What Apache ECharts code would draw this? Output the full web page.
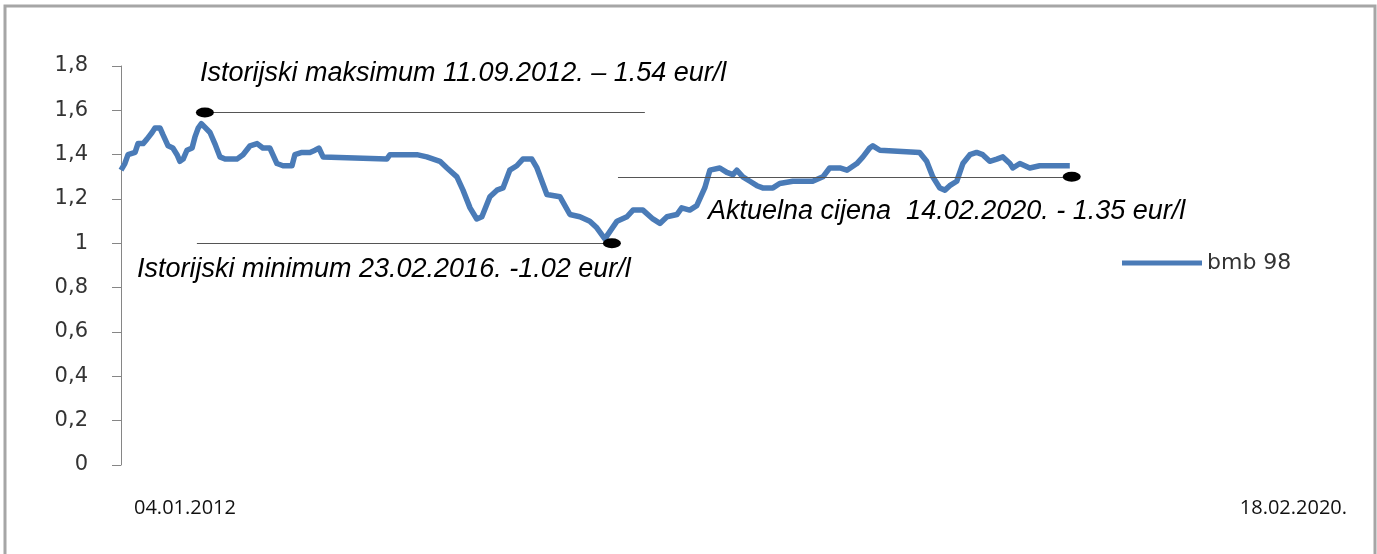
<!DOCTYPE html>
<html>
<head>
<meta charset="utf-8">
<script src="https://cdn.jsdelivr.net/npm/echarts@6/dist/echarts.min.js"></script>
<style>
html, body { margin: 0; padding: 0; background: #fff; }
#main { width: 1377px; height: 554px; }
</style>
</head>
<body>
<div id="main"></div>
<script>
// cijene bmb 98 (eur/l), ocitano sa slike
var dates = [
    '2012-01-04', '2012-01-16', '2012-01-26', '2012-02-17', '2012-02-26', '2012-03-13', '2012-03-25',
    '2012-04-10', '2012-04-19', '2012-05-05', '2012-05-14', '2012-05-30', '2012-06-14', '2012-06-27',
    '2012-07-06', '2012-07-16', '2012-07-28', '2012-08-13', '2012-08-22', '2012-09-01', '2012-09-11',
    '2012-10-08', '2012-10-23', '2012-11-08', '2012-11-24', '2012-12-31', '2013-01-19', '2013-02-10',
    '2013-03-04', '2013-03-22', '2013-04-13', '2013-05-05', '2013-05-24', '2013-06-21', '2013-06-30',
    '2013-07-22', '2013-08-16', '2013-09-01', '2013-09-13', '2013-09-26', '2014-04-13', '2014-04-23',
    '2014-07-16', '2014-08-16', '2014-09-26', '2014-10-18', '2014-11-18', '2014-12-07', '2014-12-29',
    '2015-01-19', '2015-02-04', '2015-03-01', '2015-03-23', '2015-04-11', '2015-05-02', '2015-05-24',
    '2015-06-12', '2015-07-10', '2015-07-26', '2015-08-26', '2015-10-06', '2015-11-06', '2015-12-07',
    '2016-01-07', '2016-01-29', '2016-02-23', '2016-04-01', '2016-05-02', '2016-05-21', '2016-06-21',
    '2016-07-22', '2016-08-13', '2016-09-04', '2016-10-05', '2016-10-20', '2016-11-14', '2016-12-06',
    '2016-12-31', '2017-01-16', '2017-02-16', '2017-03-10', '2017-03-29', '2017-04-10', '2017-04-29',
    '2017-05-21', '2017-06-12', '2017-06-30', '2017-08-01', '2017-08-22', '2017-10-02', '2017-12-03',
    '2018-01-04', '2018-01-25', '2018-02-26', '2018-03-20', '2018-04-20', '2018-05-09', '2018-05-30',
    '2018-06-09', '2018-07-01', '2018-11-02', '2018-11-24', '2018-12-13', '2019-01-04', '2019-01-20',
    '2019-02-04', '2019-02-26', '2019-03-17', '2019-04-08', '2019-04-29', '2019-05-18', '2019-06-09',
    '2019-07-01', '2019-07-20', '2019-08-11', '2019-08-20', '2019-09-11', '2019-10-12', '2019-11-12',
    '2020-02-14'
];
var prices = [
    1.33, 1.36, 1.40, 1.41, 1.45, 1.45, 1.47,
    1.50, 1.52, 1.52, 1.49, 1.44, 1.43, 1.40,
    1.37, 1.38, 1.42, 1.43, 1.48, 1.52, 1.54,
    1.50, 1.45, 1.39, 1.38, 1.38, 1.40, 1.44,
    1.45, 1.43, 1.43, 1.36, 1.35, 1.35, 1.40,
    1.41, 1.41, 1.42, 1.43, 1.39, 1.38, 1.40,
    1.40, 1.39, 1.37, 1.34, 1.30, 1.24, 1.16,
    1.11, 1.12, 1.21, 1.24, 1.25, 1.33, 1.35,
    1.38, 1.38, 1.34, 1.22, 1.21, 1.13, 1.12,
    1.10, 1.07, 1.02, 1.10, 1.12, 1.15, 1.15,
    1.11, 1.09, 1.12, 1.13, 1.16, 1.15, 1.17,
    1.25, 1.33, 1.34, 1.32, 1.31, 1.33, 1.30,
    1.28, 1.26, 1.25, 1.25, 1.27, 1.28, 1.28,
    1.30, 1.34, 1.34, 1.33, 1.36, 1.39, 1.43,
    1.44, 1.42, 1.41, 1.37, 1.30, 1.25, 1.24,
    1.26, 1.28, 1.36, 1.40, 1.41, 1.40, 1.37,
    1.38, 1.39, 1.36, 1.34, 1.36, 1.34, 1.35,
    1.35
];
var yTicks = [0, 0.2, 0.4, 0.6, 0.8, 1, 1.2, 1.4, 1.6, 1.8];
var seriesName = 'bmb 98';
var startLabel = '04.01.2012';
var endLabel = '18.02.2020.';

// oznake: linija + tacka
var maxLine = [['2012-08-28', 1.59], ['2016-06-27', 1.59]];
var minLine = [['2012-08-28', 1.0], ['2016-03-16', 1.0]];
var curLine = [['2016-04-04', 1.30], ['2020-02-20', 1.30]];
var maxText = 'Istorijski maksimum 11.09.2012. – 1.54 eur/l';
var minText = 'Istorijski minimum 23.02.2016. -1.02 eur/l';
var curText = 'Aktuelna cijena  14.02.2020. - 1.35 eur/l';

var lineData = dates.map(function (d, i) { return [d, prices[i]]; });

var chartDom = document.getElementById('main');
var myChart = echarts.init(chartDom);
var axisFont = 'Verdana, "DejaVu Sans", sans-serif';
var noteFont = { fontFamily: '"Liberation Sans", Arial, sans-serif', fontStyle: 'italic', fontSize: 27, fill: '#000' };

var option = {
    animation: false,
    backgroundColor: '#fff',
    grid: {
        left: 121,
        right: 304,
        top: 66,
        bottom: 89
    },
    legend: {
        left: 1122,
        top: 252,
        padding: 0,
        icon: 'rect',
        itemWidth: 80,
        itemHeight: 5,
        itemGap: 6,
        textStyle: { fontFamily: axisFont, fontSize: 22, color: '#333' },
        data: [seriesName]
    },
    xAxis: {
        type: 'time',
        min: '2012-01-04',
        max: '2020-02-24',
        show: false
    },
    yAxis: {
        type: 'value',
        min: yTicks[0],
        max: yTicks[yTicks.length - 1],
        interval: 0.2,
        axisLine: { show: true, lineStyle: { color: '#868686', width: 1 } },
        axisTick: { show: true, length: 9, lineStyle: { color: '#868686' } },
        splitLine: { show: false },
        axisLabel: {
            margin: 33,
            color: '#333',
            fontFamily: axisFont,
            fontSize: 21,
            formatter: function (v) { return String(Math.round(v * 10) / 10).replace('.', ','); }
        }
    },
    series: [
        {
            name: seriesName,
            type: 'line',
            data: lineData,
            showSymbol: false,
            symbol: 'none',
            clip: false,
            lineStyle: { color: '#4a7bb7', width: 5.5, join: 'round' },
            itemStyle: { color: '#4a7bb7' },
            markLine: {
                silent: true,
                symbol: ['none', 'none'],
                label: { show: false },
                lineStyle: { color: '#555', width: 1, type: 'solid' },
                data: [
                    [{ coord: maxLine[0] }, { coord: maxLine[1] }],
                    [{ coord: minLine[0] }, { coord: minLine[1] }],
                    [{ coord: curLine[0] }, { coord: curLine[1] }]
                ]
            },
            markPoint: {
                silent: true,
                symbol: 'circle',
                symbolSize: [18, 10],
                label: { show: false },
                itemStyle: { color: '#000' },
                data: [
                    { coord: ['2012-09-22', maxLine[0][1]] },
                    { coord: minLine[1] },
                    { coord: curLine[1] }
                ]
            }
        }
    ],
    graphic: [
        {
            type: 'rect',
            silent: true,
            shape: { x: 5, y: 6, width: 1370, height: 600 },
            style: { fill: 'none', stroke: '#a6a6a6', lineWidth: 3 }
        },
        {
            type: 'text', left: 200, top: 60,
            style: Object.assign({ text: maxText }, noteFont)
        },
        {
            type: 'text', left: 137, top: 256,
            style: Object.assign({ text: minText }, noteFont)
        },
        {
            type: 'text', left: 708, top: 198,
            style: Object.assign({ text: curText }, noteFont)
        },
        {
            type: 'text', left: 134, top: 498,
            style: { text: startLabel, fontFamily: '"Open Sans", sans-serif', fontSize: 20, fill: '#111' }
        },
        {
            type: 'text', right: 30, top: 498,
            style: { text: endLabel, fontFamily: '"Open Sans", sans-serif', fontSize: 20, fill: '#111' }
        }
    ]
};
myChart.setOption(option);
</script>
</body>
</html>
